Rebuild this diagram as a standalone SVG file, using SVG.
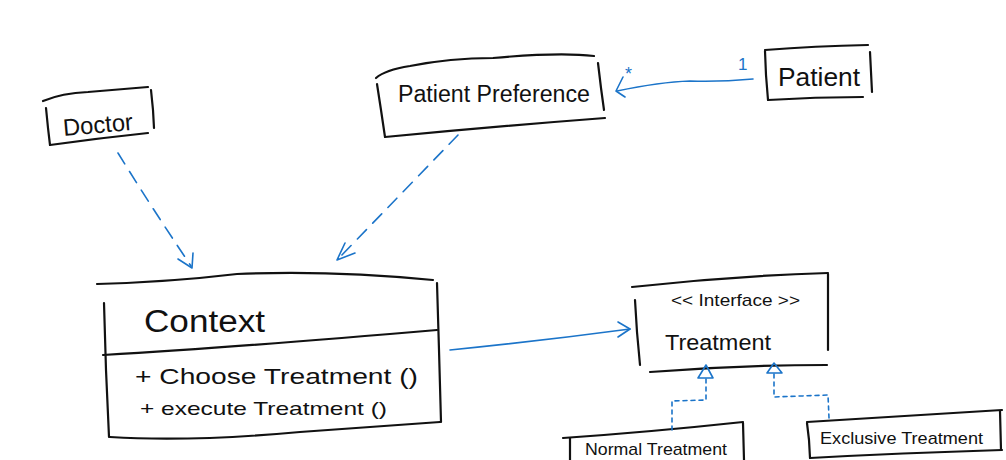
<svg xmlns="http://www.w3.org/2000/svg" width="1006" height="460" viewBox="0 0 1006 460">
<defs>
<style>
.box{fill:none;stroke:#111;stroke-width:2.2;stroke-linecap:round;stroke-linejoin:round}
.t{font-family:"Liberation Sans","DejaVu Sans",sans-serif;fill:#111}
.c{fill:none;stroke:#1b74c9;stroke-width:1.6;stroke-linecap:round;stroke-linejoin:round}
.dash{stroke-dasharray:13 9}
.dot{stroke-dasharray:4 4}
.lbl{font-family:"Liberation Sans","DejaVu Sans",sans-serif;fill:#1b74c9}
</style>
</defs>
<rect width="1006" height="460" fill="#fff"/>

<g id="doctor">
<path class="box" d="M43 101 Q62 93 88 92 L148 87"/>
<path class="box" d="M46 108 L48 128 L50 145"/>
<path class="box" d="M50 145 Q100 138 148 133"/>
<path class="box" d="M151 90 L153 110 L154 128"/>
<text class="t" x="63" y="133" font-size="24" textLength="70" lengthAdjust="spacingAndGlyphs" transform="rotate(-5 98 126)">Doctor</text>
</g>

<g id="patient-preference">
<path class="box" d="M376 78 Q385 70 410 66 Q450 58 493 58 Q560 52 594 56"/>
<path class="box" d="M377 84 L381 110 L385 137"/>
<path class="box" d="M385 137 Q500 126 605 118"/>
<path class="box" d="M598 63 L601 88 L604 110"/>
<text class="t" x="398" y="102" font-size="23" textLength="192" lengthAdjust="spacingAndGlyphs">Patient Preference</text>
</g>

<g id="patient">
<path class="box" d="M765 50 Q815 46 868 45"/>
<path class="box" d="M765 51 L766 75 L768 100"/>
<path class="box" d="M768 100 Q815 97 863 97"/>
<path class="box" d="M870 52 L871 72 L872 92"/>
<text class="t" x="778" y="86" font-size="26" textLength="82" lengthAdjust="spacingAndGlyphs">Patient</text>
</g>

<g id="context">
<path class="box" d="M97 284 Q170 282 237 274 Q330 270 433 280"/>
<path class="box" d="M104 303 L106 370 L109 437"/>
<path class="box" d="M110 437 Q190 442 300 432 L440 422"/>
<path class="box" d="M437 283 L439 350 L441 422"/>
<path class="box" d="M103 355 Q240 347 437 330"/>
<text class="t" x="144" y="332" font-size="31" textLength="121" lengthAdjust="spacingAndGlyphs">Context</text>
<text class="t" x="135" y="384" font-size="22" textLength="283" lengthAdjust="spacingAndGlyphs">+ Choose Treatment ()</text>
<text class="t" x="140" y="415" font-size="19" textLength="247" lengthAdjust="spacingAndGlyphs">+ execute Treatment ()</text>
</g>

<g id="treatment">
<path class="box" d="M632 287 Q730 276 828 273"/>
<path class="box" d="M635 300 L637 332 L640 365"/>
<path class="box" d="M650 372 Q740 365 827 365"/>
<path class="box" d="M828 274 L828 312 L828 350"/>
<text class="t" x="671" y="306" font-size="17" textLength="129" lengthAdjust="spacingAndGlyphs">&lt;&lt; Interface &gt;&gt;</text>
<text class="t" x="665" y="350" font-size="22" textLength="106" lengthAdjust="spacingAndGlyphs">Treatment</text>
</g>

<g id="normal-treatment">
<path class="box" d="M563 438 Q650 432 743 422"/>
<path class="box" d="M570 438 L570 460"/>
<path class="box" d="M743 423 L744 460"/>
<text class="t" x="585" y="455" font-size="17" textLength="142" lengthAdjust="spacingAndGlyphs">Normal Treatment</text>
</g>

<g id="exclusive-treatment">
<path class="box" d="M807 422 Q900 416 1002 410"/>
<path class="box" d="M807 423 L809 440 L810 458"/>
<path class="box" d="M810 458 Q900 453 1002 450"/>
<path class="box" d="M1000 411 L1001 450"/>
<text class="t" x="820" y="444" font-size="17" textLength="163" lengthAdjust="spacingAndGlyphs">Exclusive Treatment</text>
</g>

<g id="connectors">
<!-- Doctor -> Context -->
<path class="c dash" d="M118 153 Q150 205 191 266"/>
<path class="c" d="M178 259 L192 268 L193 253"/>
<!-- Patient Preference -> Context -->
<path class="c dash" d="M458 135 Q400 195 338 259"/>
<path class="c" d="M355 253 L337 260 L345 243"/>
<!-- Patient -> Patient Preference -->
<path class="c" d="M753 79 Q720 82 690 81 Q660 82 617 91"/>
<path class="c" d="M623 77 L616 91 L625 97"/>
<text class="lbl" x="625" y="80" font-size="18">*</text>
<text class="lbl" x="738" y="70" font-size="17">1</text>
<!-- Context -> Treatment -->
<path class="c" d="M450 350 Q540 341 630 329"/>
<path class="c" d="M618 322 L630 329 L618 337"/>
<!-- Normal -> Treatment -->
<path class="c dot" d="M672 430 L672 401 L706 400 L706 379"/>
<path class="c" d="M706 365 L698 378 L713 378 Z"/>
<!-- Exclusive -> Treatment -->
<path class="c dot" d="M829 418 L828 395 L774 397 L774 374"/>
<path class="c" d="M774 363 L767 373 L782 373 Z"/>
</g>
</svg>
